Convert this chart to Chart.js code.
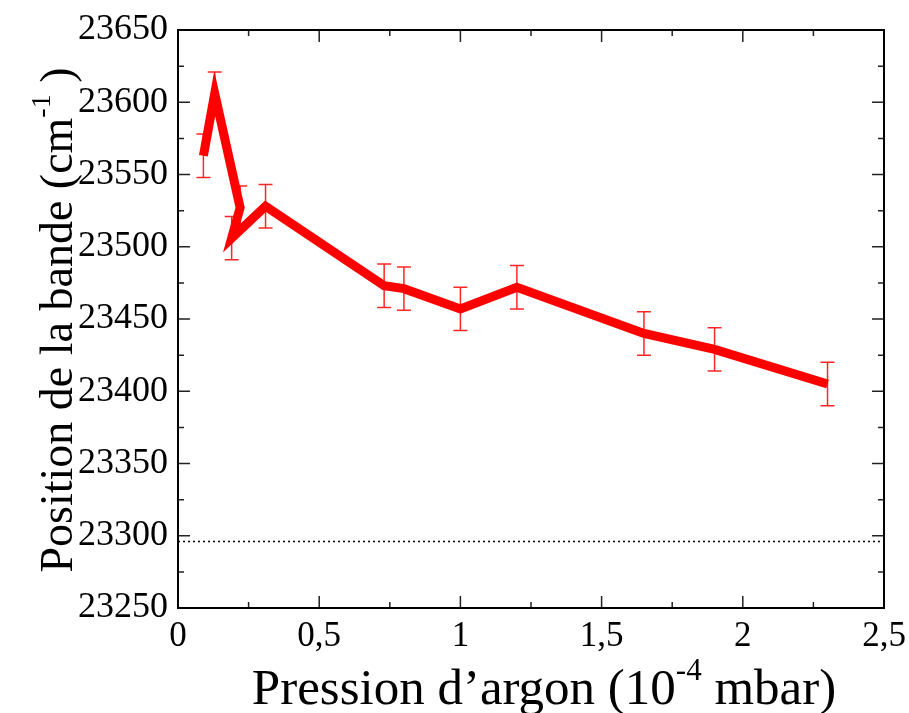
<!DOCTYPE html>
<html>
<head>
<meta charset="utf-8">
<script src="https://cdn.jsdelivr.net/npm/chart.js@4.4.0/dist/chart.umd.min.js"></script>
<style>
  body { margin: 0; background: #fff; }
  #wrap { width: 909px; height: 713px; }
</style>
</head>
<body>
<div id="wrap"><canvas id="bandChart" width="909" height="713"></canvas></div>
<script>
var pressure = [0.09, 0.13, 0.22, 0.19, 0.31, 0.73, 0.80, 1.00, 1.20, 1.65, 1.90, 2.30];
var position = [23563, 23606, 23527, 23506, 23528, 23473, 23471, 23457, 23472, 23440, 23429, 23405];
var errorBar = [15, 15, 15, 15, 15, 15, 15, 15, 15, 15, 15, 15];
var referenceLevel = 23296; // ligne pointillée

var xTicks = [0, 0.5, 1, 1.5, 2, 2.5];
var yTicks = [23250, 23300, 23350, 23400, 23450, 23500, 23550, 23600, 23650];

var points = pressure.map(function (p, i) { return { x: p, y: position[i] }; });

var serif = 'Liberation Serif';

// error bars, dotted line, frame + inner ticks, axis titles
var decorPlugin = {
    id: 'decor',
    beforeDatasetsDraw: function (chart) {
        var ctx = chart.ctx, xs = chart.scales.x, ys = chart.scales.y;
        var a = chart.chartArea;
        ctx.save();
        // dotted reference line
        var yr = ys.getPixelForValue(referenceLevel);
        ctx.strokeStyle = '#000';
        ctx.lineWidth = 1.5;
        ctx.setLineDash([2, 3]);
        ctx.beginPath();
        ctx.moveTo(a.left, yr);
        ctx.lineTo(a.right, yr);
        ctx.stroke();
        ctx.setLineDash([]);
        // error bars
        ctx.strokeStyle = 'rgba(255,0,0,0.85)';
        ctx.lineWidth = 1.5;
        for (var i = 0; i < pressure.length; i++) {
            var px = xs.getPixelForValue(pressure[i]);
            var top = ys.getPixelForValue(position[i] + errorBar[i]);
            var bot = ys.getPixelForValue(position[i] - errorBar[i]);
            ctx.beginPath();
            ctx.moveTo(px, top); ctx.lineTo(px, bot);
            ctx.moveTo(px - 7, top); ctx.lineTo(px + 7, top);
            ctx.moveTo(px - 7, bot); ctx.lineTo(px + 7, bot);
            ctx.stroke();
        }
        ctx.restore();
    },
    afterDraw: function (chart) {
        var ctx = chart.ctx, xs = chart.scales.x, ys = chart.scales.y;
        var a = chart.chartArea;
        ctx.save();
        ctx.strokeStyle = '#222';
        ctx.lineWidth = 1.5;
        ctx.beginPath();
        // x ticks (major + minor), bottom and top
        for (var v = 0; v <= 2.5001; v += 0.25) {
            var px = xs.getPixelForValue(v);
            var len = (Math.round(v * 4) % 2 === 0) ? 12 : 6;
            ctx.moveTo(px, a.bottom); ctx.lineTo(px, a.bottom - len);
            ctx.moveTo(px, a.top); ctx.lineTo(px, a.top + len);
        }
        // y ticks
        for (var w = 23250; w <= 23650; w += 25) {
            var py = ys.getPixelForValue(w);
            var l2 = (w % 50 === 0) ? 12 : 6;
            ctx.moveTo(a.left, py); ctx.lineTo(a.left + l2, py);
            ctx.moveTo(a.right, py); ctx.lineTo(a.right - l2, py);
        }
        ctx.stroke();
        // frame
        ctx.strokeStyle = '#000';
        ctx.lineWidth = 2;
        ctx.strokeRect(a.left, a.top, a.right - a.left, a.bottom - a.top);

        // axis titles with superscripts
        ctx.fillStyle = '#000';
        ctx.textBaseline = 'alphabetic';
        function drawParts(parts, cx, cy, size) {
            var big = size + 'px "' + serif + '"', small = Math.round(size * 0.6) + 'px "' + serif + '"';
            var total = 0;
            parts.forEach(function (p) { ctx.font = p.sup ? small : big; p.w = ctx.measureText(p.t).width; total += p.w; });
            var x = cx - total / 2;
            parts.forEach(function (p) {
                ctx.font = p.sup ? small : big;
                ctx.textAlign = 'left';
                ctx.fillText(p.t, x, cy - (p.sup ? size * 0.48 : 0));
                x += p.w;
            });
        }
        drawParts([{ t: 'Pression d\u2019argon (10' }, { t: '-4', sup: true }, { t: ' mbar)' }], 544, 704, 51);
        ctx.save();
        ctx.translate(72, 320);
        ctx.rotate(-Math.PI / 2);
        drawParts([{ t: 'Position de la bande (cm' }, { t: '-1', sup: true }, { t: ' )' }], 0, 0, 46);
        ctx.restore();
        ctx.restore();
    }
};

var ctx = document.getElementById('bandChart').getContext('2d');
var bandChart = new Chart(ctx, {
    type: 'scatter',
    data: {
        datasets: [{
            data: points,
            showLine: true,
            borderColor: '#ff0000',
            backgroundColor: '#ff0000',
            borderWidth: 9,
            pointRadius: 0,
            tension: 0
        }]
    },
    options: {
        responsive: false,
        animation: false,
        layout: { padding: { left: 0, right: 25, top: 30, bottom: 0 } },
        plugins: { legend: { display: false }, tooltip: { enabled: false } },
        scales: {
            x: {
                type: 'linear',
                min: 0, max: 2.5,
                afterBuildTicks: function (s) { s.ticks = xTicks.map(function (v) { return { value: v }; }); },
                afterFit: function (s) { s.height = 105; s.paddingRight = 0; s.paddingLeft = 0; },
                grid: { display: false, drawTicks: false },
                border: { display: false },
                ticks: {
                    color: '#000',
                    padding: 8,
                    maxRotation: 0,
                    font: { family: serif, size: 35 },
                    callback: function (v) { return String(v).replace('.', ','); }
                }
            },
            y: {
                type: 'linear',
                min: 23250, max: 23650,
                afterBuildTicks: function (s) { s.ticks = yTicks.map(function (v) { return { value: v }; }); },
                afterFit: function (s) { s.width = 178; s.paddingTop = 0; s.paddingBottom = 0; },
                grid: { display: false, drawTicks: false },
                border: { display: false },
                ticks: {
                    color: '#000',
                    padding: 10,
                    font: { family: serif, size: 36 },
                    callback: function (v) { return String(v); }
                }
            }
        }
    },
    plugins: [decorPlugin]
});
</script>
</body>
</html>
